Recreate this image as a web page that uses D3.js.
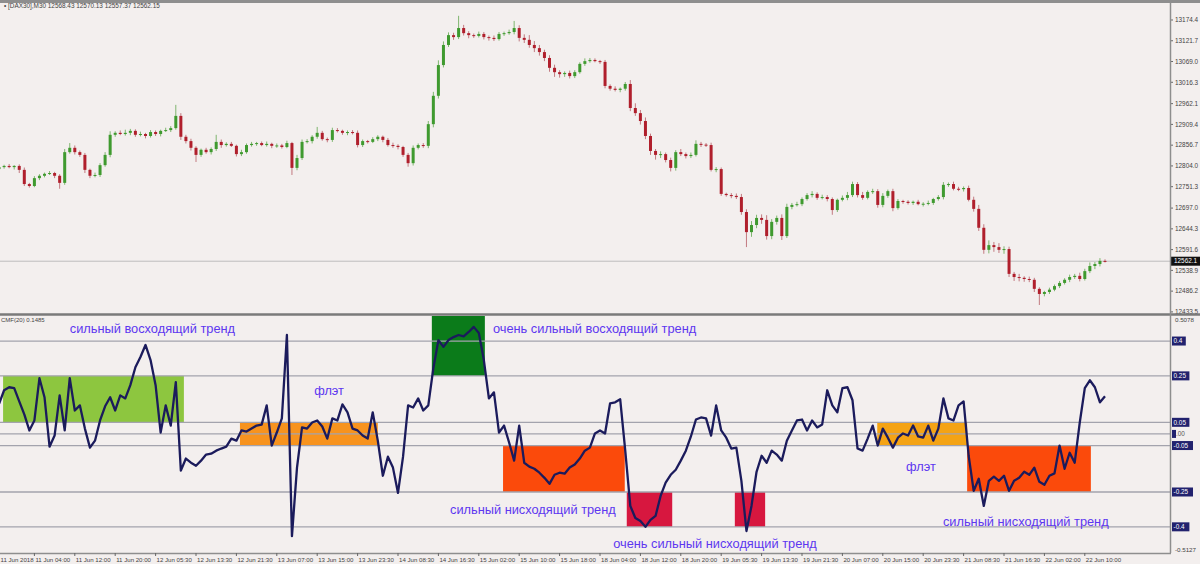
<!DOCTYPE html>
<html><head><meta charset="utf-8">
<script src="https://cdn.jsdelivr.net/npm/d3@7"></script>
<style>body{margin:0;background:#f3efee;} svg{display:block}</style>
</head><body><svg id="c" width="1200" height="564"></svg>
<script>
// ---------- DATA ----------
const timeLabels = ["11 Jun 2018","11 Jun 04:00","11 Jun 12:00","11 Jun 20:00","12 Jun 05:30","12 Jun 13:30","12 Jun 21:30","13 Jun 07:00","13 Jun 15:00","13 Jun 23:30","14 Jun 08:30","14 Jun 16:30","15 Jun 02:00","15 Jun 10:00","15 Jun 18:00","18 Jun 04:00","18 Jun 12:00","18 Jun 20:00","19 Jun 05:30","19 Jun 13:30","19 Jun 21:30","20 Jun 07:00","20 Jun 15:00","20 Jun 23:30","21 Jun 08:30","21 Jun 16:30","22 Jun 02:00","22 Jun 10:00"];
const firstOpen = 12796;
const closes = [
12801,12804,12801,12804,12794,12758,12753,12773,12779,12784,
12786,12779,12761,12839,12850,12839,12832,12794,12779,12781,
12806,12832,12883,12888,12885,12888,12893,12883,12885,12880,
12890,12885,12893,12895,12900,12931,12878,12867,12850,12832,
12845,12839,12847,12865,12857,12860,12855,12834,12839,12857,
12860,12862,12857,12860,12855,12856,12852,12862,12799,12824,
12865,12867,12878,12888,12872,12870,12895,12893,12888,12890,
12888,12857,12867,12865,12872,12878,12870,12857,12855,12852,
12832,12811,12850,12857,12855,12910,12982,13060,13111,13136,
13131,13154,13141,13136,13134,13139,13131,13129,13126,13139,
13141,13144,13154,13129,13124,13111,13103,13093,13078,13053,
13042,13037,13040,13032,13042,13063,13070,13073,13070,13068,
13007,13000,12997,13000,13012,12951,12938,12918,12880,12842,
12832,12834,12819,12799,12839,12834,12829,12832,12860,12858,
12857,12794,12796,12733,12730,12728,12725,12687,12636,12654,
12672,12667,12626,12662,12672,12626,12700,12705,12707,12720,
12730,12733,12723,12725,12720,12692,12718,12723,12730,12758,
12730,12723,12738,12740,12705,12728,12740,12697,12715,12713,
12710,12713,12707,12708,12710,12720,12725,12756,12758,12746,
12745,12748,12718,12695,12647,12591,12603,12598,12591,12593,
12530,12522,12520,12517,12515,12492,12479,12484,12490,12499,
12507,12515,12522,12525,12517,12537,12550,12555,12563,12562];
const wickUp = [
4,3,5,2,4,6,3,5,4,3, 5,3,4,8,12,6,4,5,3,6, 5,7,9,4,6,8,5,4,6,3, 5,4,3,6,5,28,7,5,6,4,
3,5,4,18,6,4,5,3,6,4, 5,3,4,6,3,5,4,6,3,8, 6,5,4,15,5,4,6,5,3,4, 5,6,4,3,5,4,3,5,6,4,
3,5,6,4,5,8,10,12,9,7, 6,31,8,5,4,6,5,4,6,5, 4,6,18,7,9,12,10,8,6,7, 8,5,4,6,5,4,7,5,4,3,
5,4,6,3,5,10,12,8,9,6, 5,7,4,6,5,8,4,6,9,5, 4,6,5,4,3,5,6,8,7,10, 8,9,12,7,6,9,8,5,6,4,
5,7,4,6,5,4,3,6,8,6, 5,8,4,6,5,7,4,6,5,3, 4,3,5,4,6,3,5,7,4,6, 5,4,6,8,10,9,12,8,10,7,
6,5,8,4,6,5,4,3,5,4, 5,4,6,5,8,6,9,5,7,4];
const wickDn = [
5,4,3,6,8,5,4,3,5,4, 3,6,15,5,4,6,5,8,6,4, 5,4,6,5,3,4,6,5,4,6, 4,5,6,3,5,4,8,6,7,18,
5,4,6,5,7,4,3,6,5,4, 4,5,3,4,6,5,4,3,18,6, 5,4,6,5,4,6,5,4,5,6, 4,6,5,4,3,5,6,4,5,6,
5,9,6,4,5,6,8,7,6,5, 7,5,6,8,5,4,6,7,5,4, 5,4,6,9,8,7,10,9,8,10, 12,9,7,6,5,4,5,4,3,5,
6,5,4,6,5,8,7,9,8,10, 12,8,6,9,7,5,6,5,4,6, 5,4,6,5,4,6,5,7,38,12, 8,10,9,8,7,10,5,6,4,5,
4,6,5,4,6,12,5,4,6,5, 6,5,4,5,7,6,5,8,4,5, 4,5,3,6,4,5,4,6,5,4, 5,6,4,7,8,10,9,12,8,10,
8,10,9,7,6,8,28,6,5,4, 5,4,6,5,6,4,5,8,6,3];
const cmfValues = [
0.130,0.188,0.201,0.197,0.140,0.084,0.015,0.058,0.240,0.158,
-0.055,-0.007,0.166,0.015,0.240,0.101,0.123,0.023,-0.059,-0.029,
0.058,0.119,0.158,0.101,0.166,0.153,0.210,0.287,0.331,0.383,
0.318,0.210,0.006,0.123,0.036,0.223,-0.158,-0.106,-0.124,-0.137,
-0.115,-0.089,-0.085,-0.072,-0.063,-0.055,-0.020,-0.029,0.015,0.010,
0.023,0.036,0.040,0.123,-0.050,0.006,0.067,0.426,-0.440,-0.145,
0.028,0.023,0.049,0.058,0.032,-0.020,0.067,0.058,0.127,0.093,
0.023,0.015,-0.007,-0.020,0.093,-0.029,-0.180,-0.098,-0.145,-0.254,
-0.098,0.123,0.114,0.153,0.101,0.123,0.283,0.404,0.375,0.404,
0.417,0.426,0.420,0.439,0.461,0.435,0.318,0.153,0.179,0.006,
0.036,-0.037,-0.115,0.036,-0.124,-0.141,-0.150,-0.167,-0.189,-0.215,
-0.176,-0.167,-0.171,-0.145,-0.132,-0.106,-0.072,-0.059,0.002,0.015,
0.002,0.132,0.136,0.149,-0.072,-0.310,-0.362,-0.375,-0.400,-0.370,
-0.353,-0.267,-0.210,-0.176,-0.154,-0.115,-0.072,-0.011,0.062,0.071,
0.067,-0.007,0.123,0.015,-0.016,-0.063,-0.059,-0.202,-0.418,-0.310,
-0.163,-0.094,-0.124,-0.072,-0.089,-0.115,-0.029,0.015,0.058,0.062,
0.015,0.058,0.028,0.041,0.188,0.123,0.093,0.197,0.201,0.145,
-0.063,-0.072,-0.020,0.036,-0.050,0.023,-0.016,-0.059,-0.016,0.002,
-0.007,0.036,-0.011,-0.016,0.036,-0.029,0.023,0.153,0.067,0.058,
0.123,0.140,-0.094,-0.245,-0.193,-0.310,-0.202,-0.184,-0.202,-0.180,
-0.245,-0.202,-0.189,-0.163,-0.176,-0.145,-0.206,-0.219,-0.180,-0.170,
-0.050,-0.150,-0.081,-0.124,0.049,0.197,0.231,0.201,0.136,0.162];
const priceTicks = [13174.4,13121.7,13069.0,13016.3,12962.1,12909.4,12856.7,12804.0,12751.3,12697.0,12644.3,12591.6,12538.9,12486.2,12433.5];
const lastPrice = 12562.15;
const cmfLevels = [0.4, 0.25, 0.05, 0, -0.05, -0.25, -0.4];
const cmfBoxed = [0.4, 0.25, 0.05, -0.05, -0.25, -0.4];
const cmfMin = -0.5127, cmfMax = 0.5078;
const zoneStart = [1.8, 48.7, 86.7, 100.8, 125.3, 146.7, 174.9, 192.7];
const zoneEnd   = [37.6, 76.0, 97.2, 124.9, 134.3, 152.7, 192.7, 217.2];
const zoneTop   = [0.25, 0.05, 0.5078, -0.05, -0.25, -0.25, 0.05, -0.05];
const zoneBottom= [0.05, -0.05, 0.25, -0.25, -0.4, -0.4, -0.05, -0.25];
const zoneColors= ["#8dc63f","#f7931e","#0b7b1a","#fb4a0b","#d7173f","#d7173f","#f4a314","#fb4a0b"];
const noteTexts = ["сильный восходящий тренд","очень сильный восходящий тренд","флэт","сильный нисходящий тренд","очень сильный нисходящий тренд","флэт","сильный нисходящий тренд"];
const noteIndex = [15.0, 98.8, 63.4, 90.3, 122.6, 180.6, 187.9];
const noteValue = [0.456, 0.456, 0.188, -0.327, -0.474, -0.141, -0.379];
const headerText = "[DAX30],M30  12568.43 12570.13 12557.37 12562.15";
const cmfTitle = "CMF(20) 0.1485";

// ---------- LAYOUT ----------
const svg = d3.select("#c");
const W = 1200, plotR = 1170;
const topY0 = 4, topY1 = 313, botY0 = 316, botY1 = 553;
const axisFont = "'Liberation Sans', Arial, sans-serif";

svg.append("rect").attr("width", W).attr("height", 564).attr("fill", "#f3efee");

const x = d3.scaleLinear().domain([0, 232]).range([-6, -6 + 232 * 5.05]);
const yP = d3.scaleLinear().domain([12430.7, 13215]).range([topY1, topY0]);
const yC = d3.scaleLinear().domain([cmfMin, cmfMax]).range([botY1, botY0]);

const defs = svg.append("defs");
defs.append("clipPath").attr("id","clipTop").append("rect").attr("x",0).attr("y",topY0).attr("width",plotR).attr("height",topY1-topY0);
defs.append("clipPath").attr("id","clipBot").append("rect").attr("x",0).attr("y",botY0).attr("width",plotR).attr("height",botY1-botY0);

// ---------- PRICE PANEL ----------
const gTop = svg.append("g").attr("clip-path","url(#clipTop)");
gTop.append("line").attr("x1",0).attr("x2",plotR).attr("y1",yP(lastPrice)).attr("y2",yP(lastPrice))
  .attr("stroke","#bdbdbd").attr("stroke-width",1);

const candles = closes.map((c, k) => {
  const o = k === 0 ? firstOpen : closes[k-1];
  return {i: k + 1, o, c, h: Math.max(o, c) + wickUp[k], l: Math.min(o, c) - wickDn[k]};
});
const cg = gTop.selectAll("g.candle").data(candles).join("g");
cg.append("line")
  .attr("x1", d => x(d.i)).attr("x2", d => x(d.i))
  .attr("y1", d => yP(d.h)).attr("y2", d => yP(d.l))
  .attr("stroke", d => d.c >= d.o ? "#7fb66f" : "#c27a80").attr("stroke-width", 1);
cg.append("rect")
  .attr("x", d => x(d.i) - 1.5).attr("width", 3)
  .attr("y", d => yP(Math.max(d.o, d.c)))
  .attr("height", d => Math.max(1, Math.abs(yP(d.o) - yP(d.c))))
  .attr("fill", d => d.c >= d.o ? "#3f9a2f" : "#b01f2c");

// price axis
const pa = svg.append("g");
priceTicks.forEach(p => {
  pa.append("line").attr("x1", plotR).attr("x2", plotR + 3).attr("y1", yP(p)).attr("y2", yP(p)).attr("stroke", "#666");
  pa.append("text").attr("x", plotR + 5).attr("y", yP(p)).attr("dy", "0.35em")
    .attr("font-family", axisFont).attr("font-size", 6.4).attr("fill", "#444").text(p.toFixed(1));
});
pa.append("rect").attr("x", plotR + 1).attr("y", yP(lastPrice) - 4.5).attr("width", 29).attr("height", 9).attr("fill", "#111");
pa.append("text").attr("x", plotR + 4).attr("y", yP(lastPrice)).attr("dy", "0.35em")
  .attr("font-family", axisFont).attr("font-size", 6.4).attr("fill", "#fff").text(lastPrice.toFixed(1));

svg.append("text").attr("x", 4).attr("y", 8).attr("font-family", axisFont).attr("font-size", 6.4).attr("fill", "#444")
  .text("• " + headerText);

// ---------- CMF PANEL ----------
const gBot = svg.append("g").attr("clip-path","url(#clipBot)");
gBot.selectAll("rect.zone").data(zoneStart).join("rect")
  .attr("x", (d, k) => x(d)).attr("width", (d, k) => x(zoneEnd[k]) - x(d))
  .attr("y", (d, k) => yC(zoneTop[k])).attr("height", (d, k) => yC(zoneBottom[k]) - yC(zoneTop[k]))
  .attr("fill", (d, k) => zoneColors[k]);

gBot.selectAll("line.lvl").data(cmfLevels).join("line")
  .attr("x1", 0).attr("x2", plotR).attr("y1", d => yC(d)).attr("y2", d => yC(d))
  .attr("stroke", "#a3a3ad").attr("stroke-width", 1.3);

const line = d3.line().x((d, k) => x(k + 1)).y(d => yC(d));
gBot.append("path").datum(cmfValues).attr("d", line).attr("fill", "none")
  .attr("stroke", "#1b1b5c").attr("stroke-width", 2.3).attr("stroke-linejoin", "round");

// annotations
svg.selectAll("text.note").data(noteTexts).join("text")
  .attr("x", (d, k) => x(noteIndex[k])).attr("y", (d, k) => yC(noteValue[k])).attr("dy", "0.35em")
  .attr("font-family", "'Liberation Sans', Arial, sans-serif").attr("font-size", 12.8)
  .attr("fill", "#5d37f0").text(d => d);

svg.append("text").attr("x", 1).attr("y", botY0 + 6).attr("font-family", axisFont).attr("font-size", 6).attr("fill", "#444").text(cmfTitle);

// CMF axis labels
const ca = svg.append("g");
cmfBoxed.forEach(v => {
  const t = String(v);
  const w = t.length * 3.6 + 3;
  ca.append("rect").attr("x", plotR + 2).attr("y", yC(v) - 4.5).attr("width", w).attr("height", 9).attr("fill", "#22226e");
  ca.append("text").attr("x", plotR + 3.5).attr("y", yC(v)).attr("dy", "0.35em")
    .attr("font-family", axisFont).attr("font-size", 6.4).attr("fill", "#fff").text(t);
});
ca.append("rect").attr("x", plotR + 2).attr("y", yC(0) - 4).attr("width", 4).attr("height", 8).attr("fill", "#22226e");
ca.append("text").attr("x", plotR + 6).attr("y", yC(0)).attr("dy", "0.35em").attr("font-family", axisFont).attr("font-size", 6.4).attr("fill", "#555").text(".00");
[[cmfMax, "0.5078", 4], [cmfMin, "-0.5127", -3]].forEach(([v, t, off]) => {
  ca.append("text").attr("x", plotR + 5).attr("y", yC(v) + off).attr("dy", "0.35em")
    .attr("font-family", axisFont).attr("font-size", 6.2).attr("fill", "#444").text(t);
});

// ---------- FRAMES ----------
svg.append("line").attr("x1", 0).attr("x2", W).attr("y1", 1.5).attr("y2", 1.5).attr("stroke", "#8e8e8e").attr("stroke-width", 3);
svg.append("line").attr("x1", 0).attr("x2", W).attr("y1", 314.5).attr("y2", 314.5).attr("stroke", "#7a7a7a").attr("stroke-width", 2.5);
svg.append("line").attr("x1", plotR + 0.5).attr("x2", plotR + 0.5).attr("y1", 0).attr("y2", botY1).attr("stroke", "#8e8e8e").attr("stroke-width", 1.5);
svg.append("line").attr("x1", 0).attr("x2", plotR + 1).attr("y1", botY1 + 0.5).attr("y2", botY1 + 0.5).attr("stroke", "#8e8e8e").attr("stroke-width", 1.5);

// time axis
const ta = svg.append("g");
timeLabels.forEach((t, k) => {
  const xx = x(k * 8);
  const tx = Math.max(0.5, xx + 1);
  ta.append("line").attr("x1", xx).attr("x2", xx).attr("y1", botY1).attr("y2", botY1 + 3).attr("stroke", "#666");
  ta.append("text").attr("x", tx).attr("y", botY1 + 8.5).attr("font-family", axisFont).attr("font-size", 6.1).attr("fill", "#444").text(t);
});
</script></body></html>
